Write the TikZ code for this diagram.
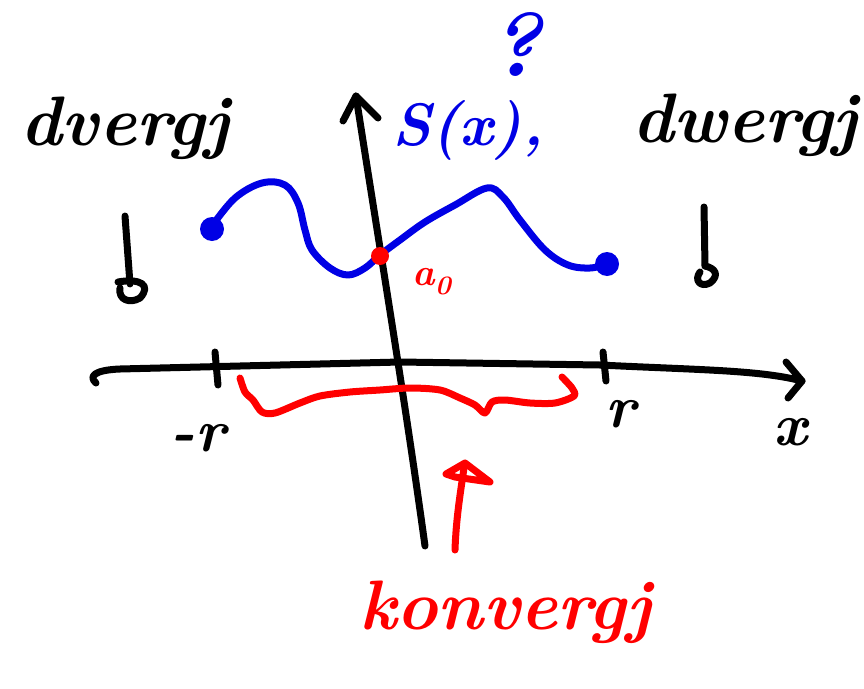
\documentclass[tikz,border=0pt]{standalone}
\usepackage{fontspec}
\begin{document}
\begin{tikzpicture}[x=1pt,y=-1pt,
  pen/.style={line width=7pt,line cap=round,line join=round},
  blk/.style={pen,black},
  blu/.style={pen,blue!90!black},
  rd/.style={pen,red},
  word/.style={inner sep=0pt,font=\fontsize{#1}{#1}\selectfont\bfseries\itshape}]
\useasboundingbox[fill=white] (0,0) rectangle (864,688);

% x axis
\coordinate (xr) at (802,381);
\draw[blk] (96,383) .. controls (88,376) and (95,370) .. (120,369) -- (400,362) -- (600,365) .. controls (700,370) and (760,370) .. (xr);
\draw[blk] (786,362) -- (xr) -- (788,398);
% ticks
\draw[blk] (215,352) -- (218,385);
\draw[blk] (603,352) -- (606,381);
% y axis
\coordinate (yt) at (356,96);
\draw[blk] (425,546) .. controls (405,400) and (380,250) .. (yt);
\draw[blk] (343,121) -- (yt) -- (378,118);

% blue curve S(x)
\draw[blu] plot[smooth,tension=0.6] coordinates {(212,226) (235,198) (262,183) (285,185) (298,203) (305,230) (312,250) (330,268) (348,275) (365,268) (380,255) (400,240) (425,222) (455,205) (487,188) (503,197) (520,220) (545,250) (568,265) (590,268) (607,264)};
\fill[blue!90!black] (212,229) circle (12);
\fill[blue!90!black] (607,264) circle (12);
% red point a0
\fill[red] (380,256) circle (9);
\node[word=38,red] (a0) at (432,282) {a\textsubscript{0}};

% red brace
\draw[rd] plot[smooth,tension=0.5] coordinates {(240,378) (245,392) (253,400) (262,412) (275,413) (300,403) (320,396) (350,392) (380,390) (410,388) (440,390) (460,398) (475,405) (485,413) (492,402) (505,400) (530,403) (555,403) (574,396) (572,388) (562,377)};

% red arrow
\draw[rd] (455,550) .. controls (456,520) and (460,495) .. (464,468);
\draw[rd] (446,474) -- (465,463) -- (490,482) -- (455,477) -- cycle;

% axis labels
\node[word=60] (mr) at (198,438) {-r};
\node[word=60] (r) at (621,414) {r};
\node[word=60] (x) at (790,432) {x};

% down marks
\draw[blk] (125,216) -- (130,284);
\draw[blk] (118,282) .. controls (140,278) and (152,285) .. (140,298) .. controls (130,304) and (118,300) .. (120,288);
\draw[blk] (704,207) -- (705,266);
\draw[blk] (705,266) .. controls (715,268) and (720,275) .. (710,283) .. controls (700,288) and (694,280) .. (700,272);

% words
\node[word=70] (dl) at (125,128) {dvergj};
\node[word=70] (dr) at (745,125) {dwergj};
\node[word=70,red] (kv) at (505,612) {konvergj};
\node[word=60,blue!90!black] (sx) at (468,130) {S(x),};
\node[word=90,blue!90!black] (q) at (515,45) {?};
\end{tikzpicture}
\end{document}
